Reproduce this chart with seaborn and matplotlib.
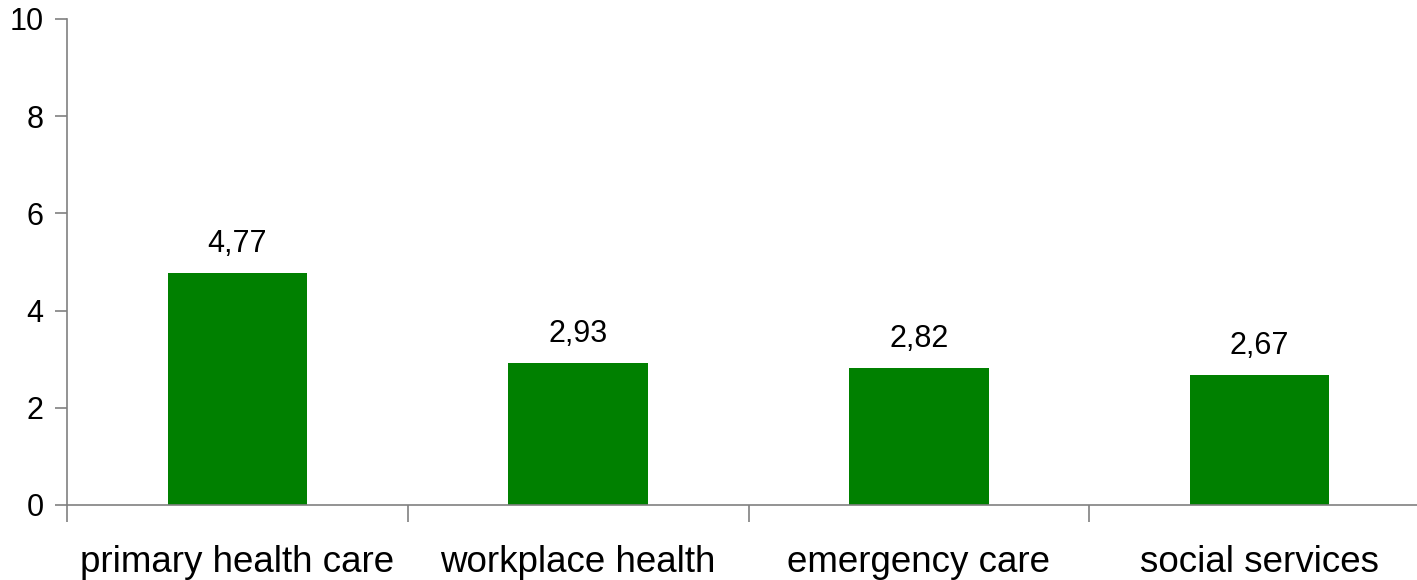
import matplotlib
matplotlib.use("Agg")
import matplotlib.pyplot as plt
import seaborn as sns
import pandas as pd
import numpy as np

categories = ["primary health care", "workplace health", "emergency care", "social services"]
values = [4.77, 2.93, 2.82, 2.67]
value_labels = ["4,77", "2,93", "2,82", "2,67"]
y_ticks = [0, 2, 4, 6, 8, 10]

sns.set_style("white")
plt.rcParams["font.family"] = ["Liberation Sans", "DejaVu Sans"]
plt.rcParams["text.color"] = "black"
plt.rcParams["xtick.color"] = "black"
plt.rcParams["ytick.color"] = "black"

df = pd.DataFrame({"category": categories, "value": values})

fig = plt.figure(figsize=(14.17, 5.8), dpi=100)
ax = fig.add_axes([67 / 1417, 1 - 505 / 580, 1 - 67 / 1417 + 13 / 1417, (505 - 19) / 580])

sns.barplot(data=df, x="category", y="value", color="#008000", saturation=1,
            width=0.41, linewidth=0, ax=ax)

n = len(categories)
ax.set_xlim(-0.5, n - 0.5)
ax.set_ylim(0, 10)
ax.set_yticks(y_ticks)
ax.set_yticklabels([str(t) for t in y_ticks], fontsize=22)
ax.set_xlabel("")
ax.set_ylabel("")

# category labels centred under bars, tick marks at category boundaries
ax.set_xticks(range(n))
ax.set_xticklabels(categories, fontsize=26.5)
ax.tick_params(axis="x", which="major", length=0, pad=29, bottom=True)
ax.set_xticks(np.arange(-0.5, n, 1.0), minor=True)
ax.tick_params(axis="x", which="minor", length=12, width=1.2, color="#808080",
               direction="out", bottom=True)
ax.tick_params(axis="y", length=9, width=1.2, color="#808080", labelcolor="black",
               direction="out", pad=8, left=True)

for side in ["top", "right"]:
    ax.spines[side].set_visible(False)
for side in ["left", "bottom"]:
    ax.spines[side].set_color("#808080")
    ax.spines[side].set_linewidth(1.2)

for i, (v, lab) in enumerate(zip(values, value_labels)):
    ax.annotate(lab, (i, v), xytext=(0, 10), textcoords="offset points",
                ha="center", va="bottom", fontsize=22, color="black")

fig.savefig("out.png", dpi=100)
